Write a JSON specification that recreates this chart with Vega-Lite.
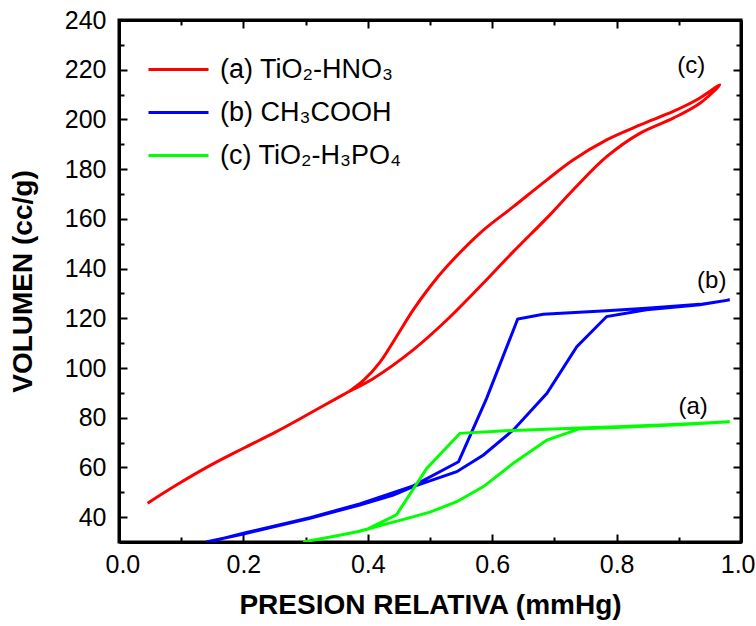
{
  "$schema": "https://vega.github.io/schema/vega-lite/v6.json",
  "width": 622,
  "height": 522,
  "autosize": {"type": "none"},
  "padding": {"left": 119, "top": 20, "right": 15, "bottom": 84},
  "background": "white",
  "config": {
    "view": {"stroke": "black", "strokeWidth": 3},
    "axis": {
      "grid": false,
      "labelFlush": false,
      "domainColor": "black",
      "domainWidth": 3,
      "tickColor": "black",
      "tickWidth": 2,
      "labelColor": "black",
      "labelFont": "Liberation Sans",
      "labelFontSize": 25,
      "titleFont": "Liberation Sans",
      "titleFontWeight": "bold",
      "titleFontSize": 28,
      "titleColor": "black"
    }
  },
  "datasets": {
    "curves": [
      {"s": "(a) TiO₂-HNO₃", "o": 1, "x": 0.046, "y": 45.6},
      {"s": "(a) TiO₂-HNO₃", "o": 2, "x": 0.093, "y": 53.0},
      {"s": "(a) TiO₂-HNO₃", "o": 3, "x": 0.146, "y": 60.7},
      {"s": "(a) TiO₂-HNO₃", "o": 4, "x": 0.2, "y": 67.7},
      {"s": "(a) TiO₂-HNO₃", "o": 5, "x": 0.253, "y": 74.4},
      {"s": "(a) TiO₂-HNO₃", "o": 6, "x": 0.307, "y": 81.8},
      {"s": "(a) TiO₂-HNO₃", "o": 7, "x": 0.36, "y": 89.2},
      {"s": "(a) TiO₂-HNO₃", "o": 8, "x": 0.409, "y": 95.8},
      {"s": "(a) TiO₂-HNO₃", "o": 9, "x": 0.473, "y": 107.3},
      {"s": "(a) TiO₂-HNO₃", "o": 10, "x": 0.527, "y": 119.3},
      {"s": "(a) TiO₂-HNO₃", "o": 11, "x": 0.58, "y": 132.7},
      {"s": "(a) TiO₂-HNO₃", "o": 12, "x": 0.634, "y": 146.8},
      {"s": "(a) TiO₂-HNO₃", "o": 13, "x": 0.69, "y": 160.9},
      {"s": "(a) TiO₂-HNO₃", "o": 14, "x": 0.73, "y": 171.6},
      {"s": "(a) TiO₂-HNO₃", "o": 15, "x": 0.784, "y": 185.0},
      {"s": "(a) TiO₂-HNO₃", "o": 16, "x": 0.838, "y": 194.5},
      {"s": "(a) TiO₂-HNO₃", "o": 17, "x": 0.891, "y": 200.5},
      {"s": "(a) TiO₂-HNO₃", "o": 18, "x": 0.934, "y": 206.5},
      {"s": "(a) TiO₂-HNO₃", "o": 19, "x": 0.966, "y": 213.9},
      {"s": "(a) TiO₂-HNO₃", "o": 20, "x": 0.929, "y": 207.9},
      {"s": "(a) TiO₂-HNO₃", "o": 21, "x": 0.891, "y": 203.2},
      {"s": "(a) TiO₂-HNO₃", "o": 22, "x": 0.838, "y": 197.8},
      {"s": "(a) TiO₂-HNO₃", "o": 23, "x": 0.784, "y": 191.8},
      {"s": "(a) TiO₂-HNO₃", "o": 24, "x": 0.73, "y": 183.7},
      {"s": "(a) TiO₂-HNO₃", "o": 25, "x": 0.688, "y": 175.7},
      {"s": "(a) TiO₂-HNO₃", "o": 26, "x": 0.634, "y": 164.9},
      {"s": "(a) TiO₂-HNO₃", "o": 27, "x": 0.58, "y": 154.2},
      {"s": "(a) TiO₂-HNO₃", "o": 28, "x": 0.527, "y": 140.8},
      {"s": "(a) TiO₂-HNO₃", "o": 29, "x": 0.5, "y": 132.7},
      {"s": "(a) TiO₂-HNO₃", "o": 30, "x": 0.473, "y": 123.4},
      {"s": "(a) TiO₂-HNO₃", "o": 31, "x": 0.446, "y": 112.6},
      {"s": "(a) TiO₂-HNO₃", "o": 32, "x": 0.42, "y": 102.5},
      {"s": "(a) TiO₂-HNO₃", "o": 33, "x": 0.393, "y": 95.0},
      {"s": "(a) TiO₂-HNO₃", "o": 34, "x": 0.37, "y": 90.6}
    ],
    "poly": [
      {"s": "(b) CH₃COOH", "o": 1, "x": 0.14, "y": 30.0},
      {"s": "(b) CH₃COOH", "o": 2, "x": 0.2, "y": 33.2},
      {"s": "(b) CH₃COOH", "o": 3, "x": 0.307, "y": 39.5},
      {"s": "(b) CH₃COOH", "o": 4, "x": 0.387, "y": 44.9},
      {"s": "(b) CH₃COOH", "o": 5, "x": 0.441, "y": 48.9},
      {"s": "(b) CH₃COOH", "o": 6, "x": 0.473, "y": 52.3},
      {"s": "(b) CH₃COOH", "o": 7, "x": 0.543, "y": 58.3},
      {"s": "(b) CH₃COOH", "o": 8, "x": 0.586, "y": 65.0},
      {"s": "(b) CH₃COOH", "o": 9, "x": 0.634, "y": 75.1},
      {"s": "(b) CH₃COOH", "o": 10, "x": 0.688, "y": 89.8},
      {"s": "(b) CH₃COOH", "o": 11, "x": 0.736, "y": 108.6},
      {"s": "(b) CH₃COOH", "o": 12, "x": 0.784, "y": 120.7},
      {"s": "(b) CH₃COOH", "o": 13, "x": 0.848, "y": 123.4},
      {"s": "(b) CH₃COOH", "o": 14, "x": 0.934, "y": 125.4},
      {"s": "(b) CH₃COOH", "o": 15, "x": 0.982, "y": 127.4},
      {"s": "(b) CH₃COOH", "o": 16, "x": 0.934, "y": 125.6},
      {"s": "(b) CH₃COOH", "o": 17, "x": 0.848, "y": 124.0},
      {"s": "(b) CH₃COOH", "o": 18, "x": 0.784, "y": 123.0},
      {"s": "(b) CH₃COOH", "o": 19, "x": 0.682, "y": 121.6},
      {"s": "(b) CH₃COOH", "o": 20, "x": 0.641, "y": 119.7},
      {"s": "(b) CH₃COOH", "o": 21, "x": 0.591, "y": 87.8},
      {"s": "(b) CH₃COOH", "o": 22, "x": 0.546, "y": 62.3},
      {"s": "(b) CH₃COOH", "o": 23, "x": 0.473, "y": 52.6},
      {"s": "(b) CH₃COOH", "o": 24, "x": 0.387, "y": 45.3},
      {"s": "(b) CH₃COOH", "o": 25, "x": 0.307, "y": 39.8},
      {"s": "(b) CH₃COOH", "o": 26, "x": 0.2, "y": 33.5},
      {"s": "(b) CH₃COOH", "o": 27, "x": 0.145, "y": 30.0},
      {"s": "(c) TiO₂-H₃PO₄", "o": 1, "x": 0.296, "y": 30.0},
      {"s": "(c) TiO₂-H₃PO₄", "o": 2, "x": 0.34, "y": 32.0},
      {"s": "(c) TiO₂-H₃PO₄", "o": 3, "x": 0.387, "y": 34.3},
      {"s": "(c) TiO₂-H₃PO₄", "o": 4, "x": 0.43, "y": 37.3},
      {"s": "(c) TiO₂-H₃PO₄", "o": 5, "x": 0.468, "y": 39.8},
      {"s": "(c) TiO₂-H₃PO₄", "o": 6, "x": 0.5, "y": 42.0},
      {"s": "(c) TiO₂-H₃PO₄", "o": 7, "x": 0.543, "y": 46.2},
      {"s": "(c) TiO₂-H₃PO₄", "o": 8, "x": 0.586, "y": 52.3},
      {"s": "(c) TiO₂-H₃PO₄", "o": 9, "x": 0.634, "y": 61.7},
      {"s": "(c) TiO₂-H₃PO₄", "o": 10, "x": 0.688, "y": 71.0},
      {"s": "(c) TiO₂-H₃PO₄", "o": 11, "x": 0.741, "y": 75.6},
      {"s": "(c) TiO₂-H₃PO₄", "o": 12, "x": 0.8, "y": 76.1},
      {"s": "(c) TiO₂-H₃PO₄", "o": 13, "x": 0.9, "y": 77.2},
      {"s": "(c) TiO₂-H₃PO₄", "o": 14, "x": 0.982, "y": 78.4},
      {"s": "(c) TiO₂-H₃PO₄", "o": 15, "x": 0.9, "y": 77.4},
      {"s": "(c) TiO₂-H₃PO₄", "o": 16, "x": 0.8, "y": 76.4},
      {"s": "(c) TiO₂-H₃PO₄", "o": 17, "x": 0.741, "y": 75.9},
      {"s": "(c) TiO₂-H₃PO₄", "o": 18, "x": 0.634, "y": 74.9},
      {"s": "(c) TiO₂-H₃PO₄", "o": 19, "x": 0.548, "y": 73.7},
      {"s": "(c) TiO₂-H₃PO₄", "o": 20, "x": 0.495, "y": 59.7},
      {"s": "(c) TiO₂-H₃PO₄", "o": 21, "x": 0.446, "y": 40.9},
      {"s": "(c) TiO₂-H₃PO₄", "o": 22, "x": 0.4, "y": 35.3},
      {"s": "(c) TiO₂-H₃PO₄", "o": 23, "x": 0.387, "y": 34.4}
    ],
    "notes": [
      {"x": 0.92, "y": 221.5, "t": "(c)"},
      {"x": 0.953, "y": 135.0, "t": "(b)"},
      {"x": 0.923, "y": 84.3, "t": "(a)"}
    ]
  },
  "layer": [
    {
      "data": {"name": "curves"},
      "mark": {"type": "line", "strokeWidth": 3, "interpolate": "catmull-rom", "clip": true},
      "encoding": {
        "x": {
          "field": "x", "type": "quantitative",
          "scale": {"domain": [0, 1], "nice": false, "zero": false},
          "axis": {
            "orient": "bottom",
            "values": [0, 0.1, 0.2, 0.3, 0.4, 0.5, 0.6, 0.7, 0.8, 0.9, 1.0],
            "labelExpr": "round(datum.value*10) % 2 === 0 ? format(datum.value, '.1f') : ''",
            "tickSize": {"condition": {"test": "round(datum.value*10) % 2 === 0", "value": -8}, "value": -5},
            "labelFlush": true,
            "labelFlushOffset": 14,
            "labelPadding": 18,
            "title": "PRESION RELATIVA (mmHg)",
            "titlePadding": 14
          }
        },
        "y": {
          "field": "y", "type": "quantitative",
          "scale": {"domain": [30, 240], "nice": false, "zero": false},
          "axis": {
            "orient": "left",
            "values": [30, 40, 50, 60, 70, 80, 90, 100, 110, 120, 130, 140, 150, 160, 170, 180, 190, 200, 210, 220, 230, 240],
            "labelExpr": "datum.value % 20 === 0 ? format(datum.value, 'd') : ''",
            "tickSize": {"condition": {"test": "datum.value % 20 === 0", "value": -8}, "value": -5},
            "labelPadding": 21,
            "title": "VOLUMEN (cc/g)",
            "titlePadding": 27
          }
        },
        "order": {"field": "o", "type": "quantitative"},
        "color": {
          "field": "s", "type": "nominal",
          "scale": {"domain": ["(a) TiO₂-HNO₃", "(b) CH₃COOH", "(c) TiO₂-H₃PO₄"], "range": ["#ff0000", "#0000ff", "#00ff00"]},
          "legend": {
            "orient": "none",
            "legendX": 46,
            "legendY": 36,
            "title": null,
            "padding": 0,
            "symbolType": "M-3,0H3",
            "symbolSize": 400,
            "symbolStrokeWidth": 3,
            "labelOffset": 28,
            "labelFont": "Liberation Sans",
            "labelFontSize": 27,
            "labelColor": "black",
            "rowPadding": 15,
            "labelLimit": 400
          }
        }
      }
    },
    {
      "data": {"name": "poly"},
      "mark": {"type": "line", "strokeWidth": 3, "clip": true},
      "encoding": {
        "x": {"field": "x", "type": "quantitative", "axis": null},
        "y": {"field": "y", "type": "quantitative", "axis": null},
        "order": {"field": "o", "type": "quantitative"},
        "color": {"field": "s", "type": "nominal"}
      }
    },
    {
      "data": {"name": "notes"},
      "mark": {"type": "text", "font": "Liberation Sans", "fontSize": 24, "color": "black", "align": "center", "baseline": "middle"},
      "encoding": {
        "x": {
          "field": "x", "type": "quantitative",
          "axis": {
            "orient": "top",
            "values": [0, 0.1, 0.2, 0.3, 0.4, 0.5, 0.6, 0.7, 0.8, 0.9, 1.0],
            "labels": false,
            "title": null,
            "tickSize": {"condition": {"test": "round(datum.value*10) % 2 === 0", "value": -8}, "value": -5}
          }
        },
        "y": {
          "field": "y", "type": "quantitative",
          "axis": {
            "orient": "right",
            "values": [30, 40, 50, 60, 70, 80, 90, 100, 110, 120, 130, 140, 150, 160, 170, 180, 190, 200, 210, 220, 230, 240],
            "labels": false,
            "title": null,
            "tickSize": {"condition": {"test": "datum.value % 20 === 0", "value": -8}, "value": -5}
          }
        },
        "text": {"field": "t"}
      }
    }
  ],
  "resolve": {"axis": {"x": "independent", "y": "independent"}}
}
